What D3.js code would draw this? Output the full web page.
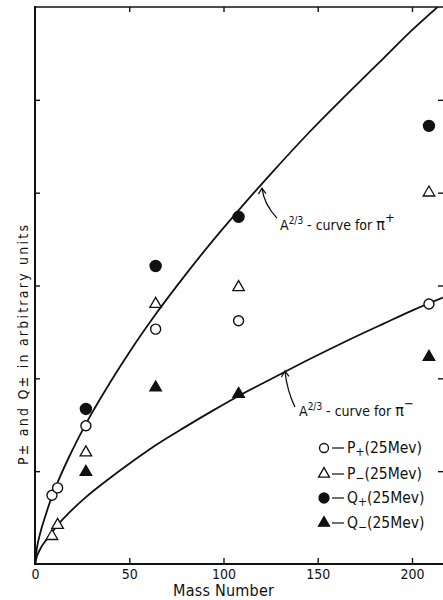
<!DOCTYPE html>
<html>
<head>
<meta charset="utf-8">
<script src="https://cdn.jsdelivr.net/npm/d3@7"></script>
<style>
  html, body { margin: 0; padding: 0; background: #fff; }
  svg { display: block; }
  text { font-family: "Liberation Sans Narrow", "DejaVu Sans Condensed", sans-serif; fill: #111; }
</style>
</head>
<body>
<svg id="chart" width="443" height="600"></svg>
<script>
// ---- data ----
const massNumbers = [9, 12, 27, 64, 108, 209];
const pPlus  = [0.74, 0.82, 1.49, 2.53, 2.62, 2.80];
const pMinus = [0.30, 0.42, 1.20, 2.80, 2.98, 4.00];
const qMass  = [27, 64, 108, 209];
const qPlus  = [1.67, 3.21, 3.74, 4.72];
const qMinus = [0.99, 1.90, 1.83, 2.23];

const curveMass    = [0, 1, 3, 6, 9, 12, 18, 27, 40, 52, 64, 80, 95, 108, 125, 145, 165, 185, 200, 216.4];
const piPlusCurve  = [0, 0.17, 0.35, 0.55, 0.73, 0.88, 1.15, 1.51, 1.96, 2.34, 2.69, 3.12, 3.50, 3.81, 4.20, 4.64, 5.05, 5.45, 5.75, 6.05];
const piMinusCurve = [0, 0.08, 0.17, 0.26, 0.34, 0.42, 0.55, 0.72, 0.93, 1.11, 1.28, 1.48, 1.66, 1.81, 1.99, 2.20, 2.40, 2.59, 2.73, 2.87];

const xTicks = [0, 50, 100, 150, 200];
const yTicks = [1, 2, 3, 4, 5];
const xLabel = "Mass Number";
const yLabel = "P± and Q± in arbitrary units";

const legendItems = [
  { sym: "circle",   filled: false, main: "P", sub: "+", rest: "(25Mev)" },
  { sym: "triangle", filled: false, main: "P", sub: "−", rest: "(25Mev)" },
  { sym: "circle",   filled: true,  main: "Q", sub: "+", rest: "(25Mev)" },
  { sym: "triangle", filled: true,  main: "Q", sub: "−", rest: "(25Mev)" }
];

(function () {
// ---- layout ----
const svg = d3.select("#chart");
const pL = 35, pR = 443, pT = 7, pB = 564;
const x = d3.scaleLinear().domain([0, (pR - pL) / 1.885]).range([pL, pR]);
const y = d3.scaleLinear().domain([0, 6]).range([pB, pT]);

svg.append("defs").append("clipPath").attr("id", "plotclip")
  .append("rect").attr("x", pL).attr("y", pT).attr("width", pR - pL).attr("height", pB - pT);

// frame lines
const frame = svg.append("g").attr("stroke", "#111").attr("stroke-width", 2).attr("fill", "none");
frame.append("line").attr("x1", pL).attr("x2", pL).attr("y1", pT - 1).attr("y2", pB + 1);
frame.append("line").attr("x1", pL).attr("x2", pR).attr("y1", pB).attr("y2", pB);
frame.append("line").attr("x1", pL).attr("x2", pR).attr("y1", pT).attr("y2", pT).attr("stroke-width", 1.6);

// axes
function styleAxis(g) {
  g.select(".domain").remove();
  g.attr("font-family", null);
  g.selectAll(".tick line").attr("stroke", "#111").attr("stroke-width", 1.4);
  g.selectAll(".tick text").attr("font-size", 14).attr("fill", "#111");
}
svg.append("g").attr("transform", `translate(0,${pB})`)
  .call(d3.axisBottom(x).tickValues(xTicks).tickSize(-6).tickPadding(5).tickFormat(d3.format("d")))
  .call(styleAxis);
svg.append("g").attr("transform", `translate(0,${pT})`)
  .call(d3.axisTop(x).tickValues(xTicks.slice(1)).tickSize(-5).tickFormat(""))
  .call(styleAxis);
svg.append("g").attr("transform", `translate(${pL},0)`)
  .call(d3.axisLeft(y).tickValues(yTicks).tickSize(-5).tickFormat(""))
  .call(styleAxis);
svg.append("g").attr("transform", `translate(${pR},0)`)
  .call(d3.axisRight(y).tickValues(yTicks).tickSize(-5).tickFormat(""))
  .call(styleAxis);

// axis titles
svg.append("text").attr("x", (x(0) + x(200)) / 2).attr("y", 596)
  .attr("text-anchor", "middle").attr("font-size", 16)
  .attr("textLength", 101).attr("lengthAdjust", "spacing")
  .text(xLabel);
svg.append("text").attr("transform", `translate(28,345) rotate(-90)`)
  .attr("text-anchor", "middle").attr("font-size", 14)
  .attr("textLength", 240).attr("lengthAdjust", "spacing")
  .text(yLabel);

// curves
const line = d3.line().x(d => x(d[0])).y(d => y(d[1])).curve(d3.curveMonotoneX);
const curves = svg.append("g").attr("clip-path", "url(#plotclip)")
  .attr("fill", "none").attr("stroke", "#111").attr("stroke-width", 1.8);
curves.append("path").attr("d", line(d3.zip(curveMass, piPlusCurve)));
curves.append("path").attr("d", line(d3.zip(curveMass, piMinusCurve)));

// markers
const triPath = d3.symbol().type(d3.symbolTriangle).size(58)();
function drawCircles(xs, ys, filled) {
  svg.append("g").selectAll("circle").data(d3.zip(xs, ys)).join("circle")
    .attr("cx", d => x(d[0])).attr("cy", d => y(d[1]))
    .attr("r", filled ? 5.5 : 5)
    .attr("fill", filled ? "#111" : "#fff")
    .attr("stroke", "#111").attr("stroke-width", 1.4);
}
function drawTriangles(xs, ys, filled) {
  svg.append("g").selectAll("path").data(d3.zip(xs, ys)).join("path")
    .attr("d", triPath)
    .attr("transform", d => `translate(${x(d[0])},${y(d[1])})`)
    .attr("fill", filled ? "#111" : "#fff")
    .attr("stroke", "#111").attr("stroke-width", 1.3);
}
drawCircles(massNumbers, pPlus, false);
drawTriangles(massNumbers, pMinus, false);
drawCircles(qMass, qPlus, true);
drawTriangles(qMass, qMinus, true);

// annotations with curved arrows
function annotate(tipA, tipV, tailDx, tailDy, textX, textY, sign) {
  const tx = x(tipA), ty = y(tipV);
  const ex = tx + tailDx, ey = ty + tailDy;
  svg.append("path")
    .attr("d", `M${ex},${ey} Q${tx + 2},${ty + tailDy * 0.55} ${tx},${ty + 1}`)
    .attr("fill", "none").attr("stroke", "#111").attr("stroke-width", 1.3);
  svg.append("path")
    .attr("d", `M${tx - 3.5},${ty + 7} L${tx},${ty + 1} L${tx + 4},${ty + 6.5}`)
    .attr("fill", "none").attr("stroke", "#111").attr("stroke-width", 1.3);
  const t = svg.append("text").attr("x", textX).attr("y", textY).attr("font-size", 14);
  t.append("tspan").text("A");
  t.append("tspan").attr("font-size", 10).attr("dy", -6).text("2/3");
  t.append("tspan").attr("dy", 6).text(" - curve for ");
  t.append("tspan").attr("font-size", 16).text("π");
  t.append("tspan").attr("font-size", 13).attr("dy", -8).text(sign);
}
annotate(120.4, 4.06, 15, 31, 280, 230, "+");
annotate(132.6, 2.09, 10, 37, 299, 416, "−");

// legend
const legend = svg.append("g");
const legendY = [448, 474, 498, 523];
legendItems.forEach((it, i) => {
  const g = legend.append("g").attr("transform", `translate(324,${legendY[i]})`);
  if (it.sym === "circle") {
    g.append("circle").attr("r", it.filled ? 5 : 4.5)
      .attr("fill", it.filled ? "#111" : "#fff").attr("stroke", "#111").attr("stroke-width", 1.3);
  } else {
    g.append("path").attr("d", d3.symbol().type(d3.symbolTriangle).size(52)())
      .attr("fill", it.filled ? "#111" : "#fff").attr("stroke", "#111").attr("stroke-width", 1.3);
  }
  g.append("line").attr("x1", 8).attr("x2", 20).attr("y1", 0).attr("y2", 0)
    .attr("stroke", "#111").attr("stroke-width", 1.2);
  const t = g.append("text").attr("x", 23).attr("y", 5).attr("font-size", 15.5);
  t.append("tspan").text(it.main);
  t.append("tspan").attr("font-size", 12).attr("dy", 3).text(it.sub);
  t.append("tspan").attr("dy", -3).text(it.rest);
});
})();
</script>
</body>
</html>
